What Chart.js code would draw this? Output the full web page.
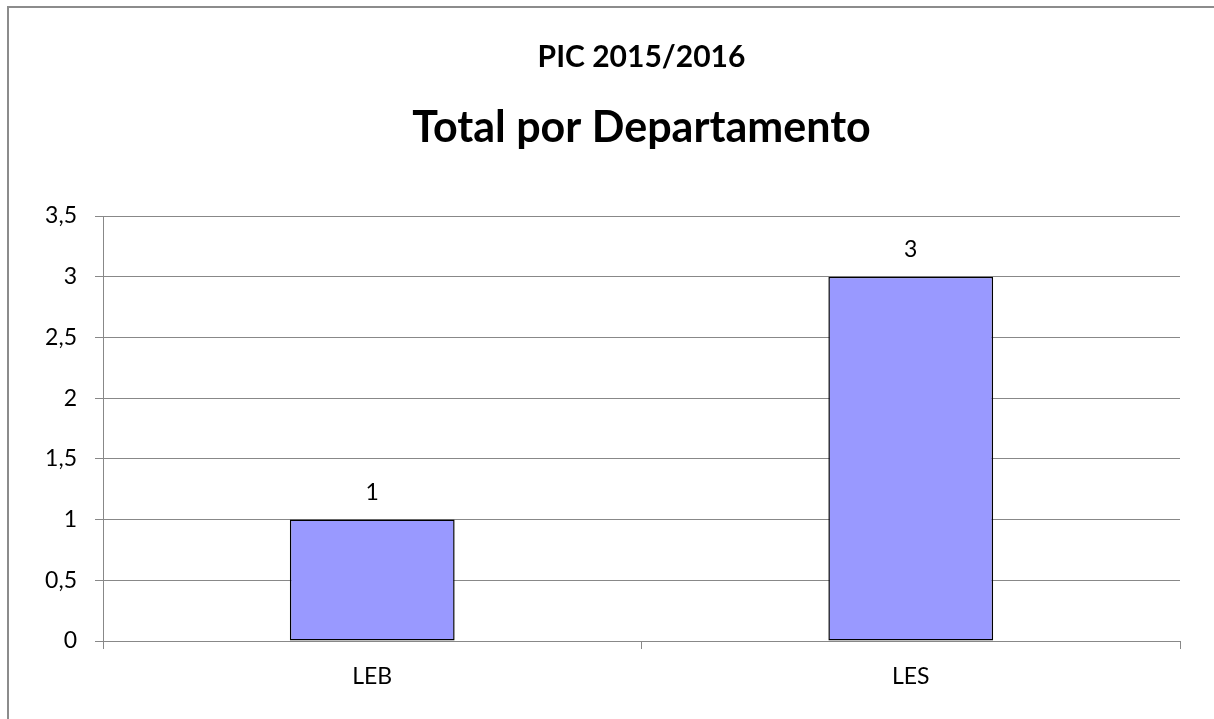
<!DOCTYPE html>
<html>
<head>
<meta charset="utf-8">
<script src="https://cdn.jsdelivr.net/npm/chart.js@4/dist/chart.umd.min.js"></script>
<style>
  html,body{margin:0;padding:0;background:#fff;}
  #wrap{position:absolute;left:0;top:0;width:1214px;height:719px;}
</style>
</head>
<body>
<div id="wrap"><canvas id="chart" width="1214" height="719"></canvas></div>
<script>
const categories=["LEB","LES"];
const totals=[1,3];
const yTicks=[0,0.5,1,1.5,2,2.5,3,3.5];
const chartTitle="PIC 2015/2016";
const chartSubtitle="Total por Departamento";

const FONT="Lato, 'Liberation Sans', sans-serif";

// frame + titles + value labels
const decor={
  id:'decor',
  beforeDraw(chart){
    const c=chart.ctx;
    c.save();
    c.strokeStyle='#8c8c8c'; c.lineWidth=2;
    c.beginPath(); c.moveTo(8,800); c.lineTo(8,7); c.lineTo(1300,7); c.stroke();
    c.restore();
  },
  afterDraw(chart){
    const c=chart.ctx, a=chart.chartArea, mid=(a.left+a.right)/2;
    c.save();
    c.fillStyle='#000'; c.textAlign='center'; c.textBaseline='alphabetic';
    c.font="bold 30px "+FONT; c.fillText(chartTitle,mid,67);
    c.font="bold 43px "+FONT; c.fillText(chartSubtitle,mid,142);
    c.font="23px "+FONT;
    chart.getDatasetMeta(0).data.forEach((bar,i)=>{
      c.fillText(String(totals[i]).replace('.',','),bar.x,bar.y-20);
    });
    c.restore();
  }
};

new Chart(document.getElementById('chart').getContext('2d'),{
  type:'bar',
  data:{labels:categories,datasets:[{data:totals,backgroundColor:'#9999ff',borderColor:'#000',borderWidth:1.5,borderSkipped:false,barPercentage:0.306,categoryPercentage:1}]},
  options:{
    responsive:false,animation:false,
    layout:{padding:{left:0,right:34,top:216,bottom:0}},
    plugins:{legend:{display:false},title:{display:false},tooltip:{enabled:false}},
    scales:{
      x:{
        grid:{drawOnChartArea:false,drawTicks:true,tickLength:8,color:'#888'},
        border:{color:'#888',width:1},
        ticks:{color:'#000',font:{family:FONT,size:23},padding:14},
        afterFit(s){ s.height=78; }
      },
      y:{
        min:0,max:3.5,
        afterBuildTicks(s){ s.ticks=yTicks.map(v=>({value:v})); },
        grid:{color:'#888',lineWidth:1,tickLength:8},
        border:{color:'#888',width:1},
        ticks:{color:'#000',font:{family:FONT,size:23},padding:18,callback:v=>String(v).replace('.',',')},
        afterFit(s){ s.width=103; }
      }
    }
  },
  plugins:[decor]
});
</script>
</body>
</html>
